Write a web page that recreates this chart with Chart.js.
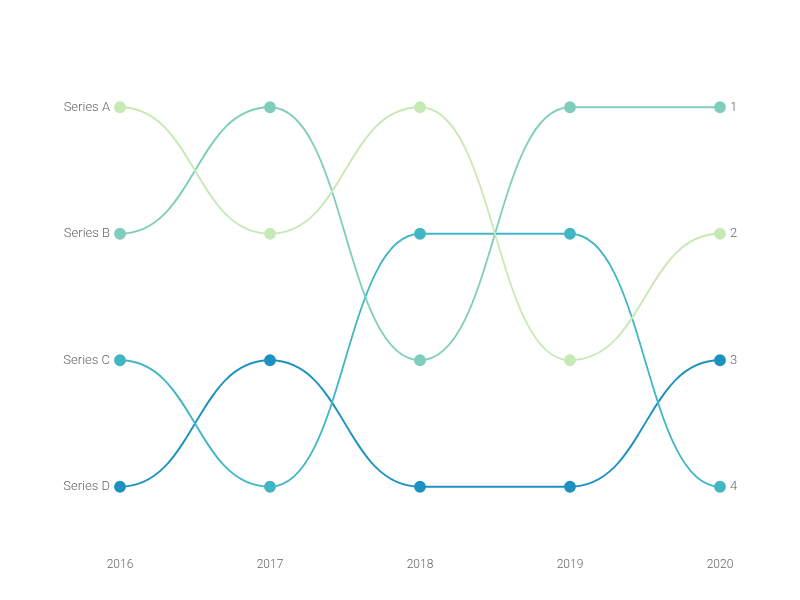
<!DOCTYPE html>
<html>
<head>
<meta charset="utf-8">
<script src="https://cdn.jsdelivr.net/npm/chart.js@4"></script>
<style>
  html, body { margin: 0; padding: 0; background: #fff; }
  #wrap { width: 800px; height: 600px; }
</style>
</head>
<body>
<div id="wrap"><canvas id="bumpChart"></canvas></div>
<script>
// Bump chart data
const years = ['2016', '2017', '2018', '2019', '2020'];
const seriesNames = ['Series A', 'Series B', 'Series C', 'Series D'];
const rankA = [1, 2, 1, 3, 2];
const rankB = [2, 1, 3, 1, 1];
const rankC = [3, 4, 2, 2, 4];
const rankD = [4, 3, 4, 4, 3];
const colors = ['#c7e9b4', '#7fcdbb', '#41b6c4', '#1d91c0'];

// curves leave and enter each point flat, like a bump curve
const bumpCurve = {
  id: 'bumpCurve',
  beforeDatasetDraw(chart, args) {
    const line = args.meta.dataset;
    line.updateControlPoints(chart.chartArea);
    const pts = args.meta.data;
    pts.forEach((p, i) => {
      const prev = pts[i - 1], next = pts[i + 1];
      p.cp1x = prev ? p.x - (p.x - prev.x) / 2 : p.x;
      p.cp1y = p.y;
      p.cp2x = next ? p.x + (next.x - p.x) / 2 : p.x;
      p.cp2y = p.y;
    });
  }
};

function makeSet(label, data, color) {
  return {
    label: label,
    data: data,
    borderColor: color,
    backgroundColor: color,
    pointBackgroundColor: color,
    pointBorderColor: color,
    pointRadius: 5,
    pointHoverRadius: 5,
    borderWidth: 1.8,
    tension: 0.4,
    fill: false
  };
}

const ctx = document.getElementById('bumpChart').getContext('2d');
new Chart(ctx, {
  type: 'line',
  data: {
    labels: years,
    datasets: [
      makeSet(seriesNames[0], rankA, colors[0]),
      makeSet(seriesNames[1], rankB, colors[1]),
      makeSet(seriesNames[2], rankC, colors[2]),
      makeSet(seriesNames[3], rankD, colors[3])
    ]
  },
  options: {
    responsive: true,
    maintainAspectRatio: false,
    animation: false,
    layout: { padding: { top: 44, bottom: 0, left: 0, right: 0 } },
    plugins: {
      legend: { display: false },
      tooltip: { enabled: false }
    },
    scales: {
      x: {
        offset: false,
        grid: { display: false, drawTicks: false },
        border: { display: false },
        ticks: {
          color: '#666',
          font: { family: 'Roboto', size: 12, weight: '300' },
          padding: 8,
          maxRotation: 0
        },
        afterFit(axis) { axis.height = 50; }
      },
      y: {
        position: 'left',
        reverse: true,
        min: 0.5,
        max: 4.5,
        grid: { display: false, drawTicks: false },
        border: { display: false },
        afterBuildTicks(axis) { axis.ticks = [1, 2, 3, 4].map(v => ({ value: v })); },
        ticks: {
          color: '#666',
          font: { family: 'Roboto', size: 13, weight: '300' },
          padding: 10,
          callback: (v) => seriesNames[v - 1]
        },
        afterFit(axis) { axis.width = 120; }
      },
      yRight: {
        position: 'right',
        reverse: true,
        min: 0.5,
        max: 4.5,
        grid: { display: false, drawTicks: false },
        border: { display: false },
        afterBuildTicks(axis) { axis.ticks = [1, 2, 3, 4].map(v => ({ value: v })); },
        ticks: {
          color: '#666',
          font: { family: 'Roboto', size: 13, weight: '300' },
          padding: 10,
          callback: (v) => String(v)
        },
        afterFit(axis) { axis.width = 80; }
      }
    }
  },
  plugins: [bumpCurve]
});
</script>
</body>
</html>
